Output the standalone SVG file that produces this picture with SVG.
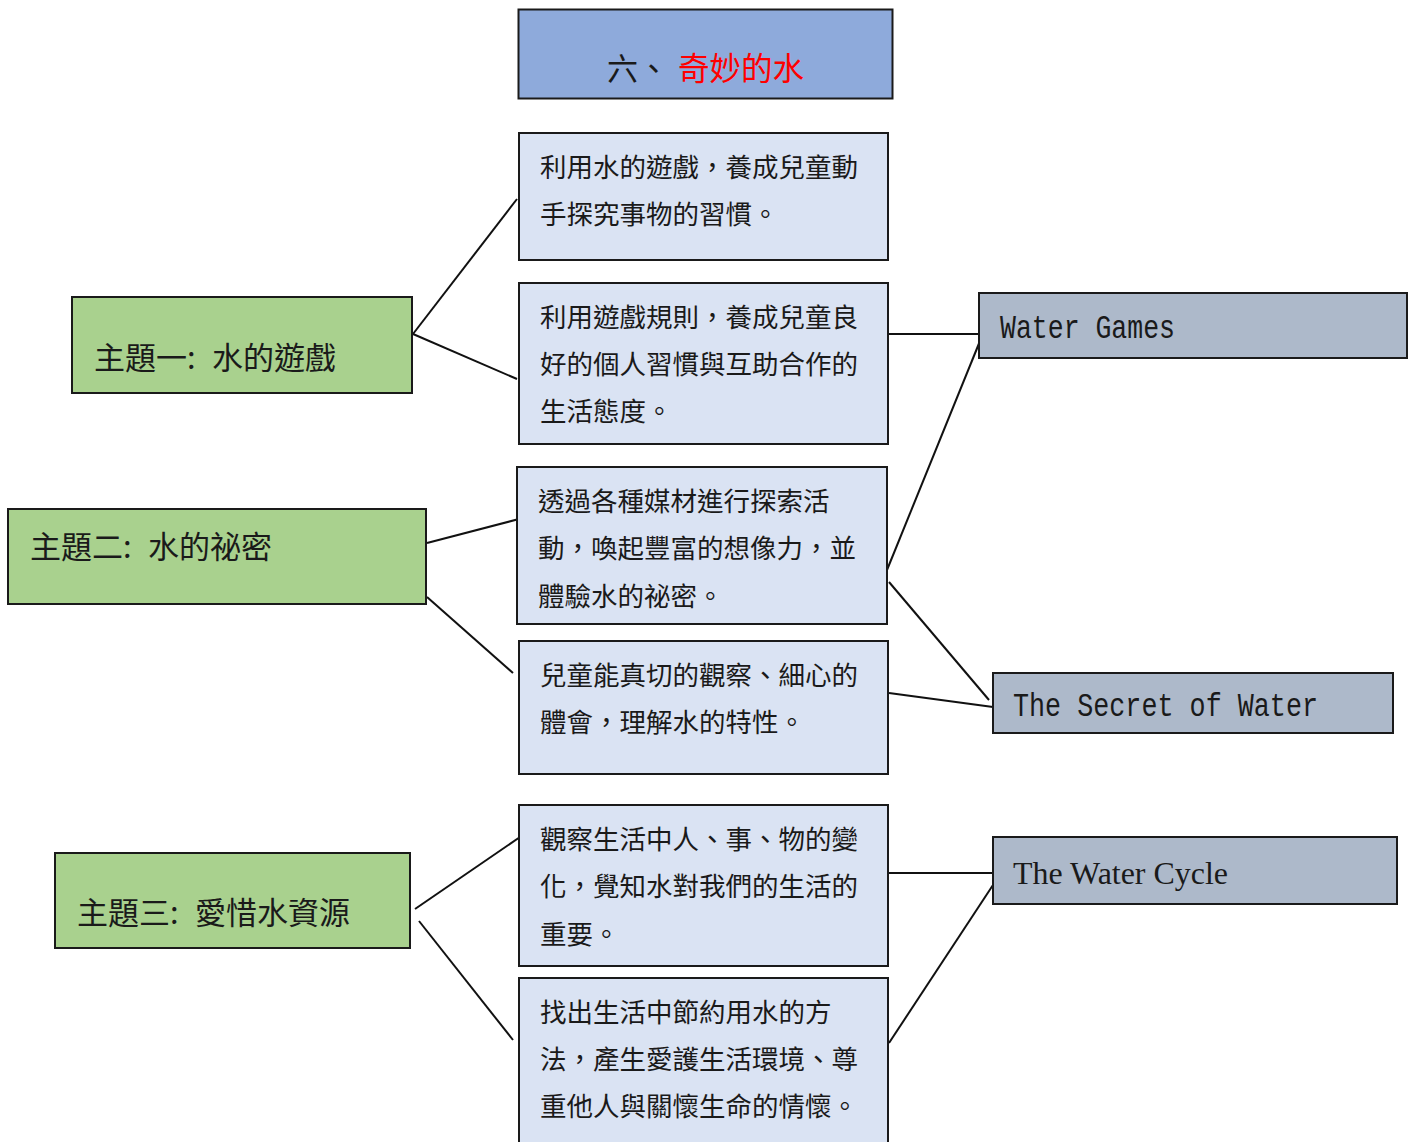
<svg xmlns="http://www.w3.org/2000/svg" width="1414" height="1142" viewBox="0 0 1414 1142">
<style>
.box{stroke:#1a1a1a;stroke-width:2}
.title{fill:#8eaadb}
.theme{fill:#a9d18e}
.desc{fill:#dae3f3}
.eng{fill:#adb9ca}
.cjk{font-family:"Noto Sans CJK TC","Noto Sans CJK SC",sans-serif;fill:#1a1a1a}
.t31{font-size:31px}
.t26{font-size:26.5px}
.mono{font-family:"Liberation Mono",monospace;font-size:33px;fill:#1a1a1a}
.serif{font-family:"Liberation Serif",serif;font-size:31px;fill:#1a1a1a}
.conn line{stroke:#111;stroke-width:2;fill:none}
</style>
<rect width="1414" height="1142" fill="#ffffff"/>
<g class="conn" id="connectors">
<line x1="413" y1="334" x2="517" y2="199"/>
<line x1="413" y1="334" x2="517" y2="379"/>
<line x1="427" y1="543" x2="519" y2="519"/>
<line x1="427" y1="597" x2="513" y2="673"/>
<line x1="415" y1="909" x2="523" y2="835"/>
<line x1="419" y1="921" x2="513" y2="1040"/>
<line x1="888" y1="334" x2="979" y2="334"/>
<line x1="887" y1="570" x2="980" y2="341"/>
<line x1="889" y1="582" x2="989" y2="700"/>
<line x1="889" y1="693" x2="993" y2="707"/>
<line x1="889" y1="873" x2="993" y2="873"/>
<line x1="889" y1="1043" x2="993" y2="885"/>
</g>
<g id="title">
<rect class="box title" x="518.5" y="9.5" width="374" height="89"/>
<text class="cjk t31" y="80"><tspan x="607">六、</tspan><tspan x="678" fill="#ff0000" font-size="31.5">奇妙的水</tspan></text>
</g>
<g id="theme1">
<rect class="box theme" x="72" y="297" width="340" height="96"/>
<text class="cjk t31" y="369"><tspan x="94">主題一: </tspan><tspan x="212">水的遊戲</tspan></text>
</g>
<g id="theme2">
<rect class="box theme" x="8" y="509" width="418" height="95"/>
<text class="cjk t31" y="558"><tspan x="30">主題二: </tspan><tspan x="148">水的祕密</tspan></text>
</g>
<g id="theme3">
<rect class="box theme" x="55" y="853" width="355" height="95"/>
<text class="cjk t31" y="924"><tspan x="77">主題三: </tspan><tspan x="195">愛惜水資源</tspan></text>
</g>
<g id="desc1">
<rect class="box desc" x="519" y="133" width="369" height="127"/>
<text class="cjk t26"><tspan x="540" y="177">利用水的遊戲，養成兒童動</tspan><tspan x="540" y="224">手探究事物的習慣。</tspan></text>
</g>
<g id="desc2">
<rect class="box desc" x="519" y="283" width="369" height="161"/>
<text class="cjk t26"><tspan x="540" y="327">利用遊戲規則，養成兒童良</tspan><tspan x="540" y="374">好的個人習慣與互助合作的</tspan><tspan x="540" y="421">生活態度。</tspan></text>
</g>
<g id="desc3">
<rect class="box desc" x="517" y="467" width="370" height="157"/>
<text class="cjk t26"><tspan x="538" y="511">透過各種媒材進行探索活</tspan><tspan x="538" y="558">動，喚起豐富的想像力，並</tspan><tspan x="538" y="606">體驗水的祕密。</tspan></text>
</g>
<g id="desc4">
<rect class="box desc" x="519" y="641" width="369" height="133"/>
<text class="cjk t26"><tspan x="540" y="685">兒童能真切的觀察、細心的</tspan><tspan x="540" y="732">體會，理解水的特性。</tspan></text>
</g>
<g id="desc5">
<rect class="box desc" x="519" y="805" width="369" height="161"/>
<text class="cjk t26"><tspan x="540" y="849">觀察生活中人、事、物的變</tspan><tspan x="540" y="896">化，覺知水對我們的生活的</tspan><tspan x="540" y="944">重要。</tspan></text>
</g>
<g id="desc6">
<rect class="box desc" x="519" y="978" width="369" height="170"/>
<text class="cjk t26"><tspan x="540" y="1022">找出生活中節約用水的方</tspan><tspan x="540" y="1069">法，產生愛護生活環境、尊</tspan><tspan x="540" y="1116">重他人與關懷生命的情懷。</tspan></text>
</g>
<g id="eng1">
<rect class="box eng" x="979" y="293" width="428" height="65"/>
<text class="mono" x="1000" y="338" textLength="175" lengthAdjust="spacingAndGlyphs">Water Games</text>
</g>
<g id="eng2">
<rect class="box eng" x="993" y="673" width="400" height="60"/>
<text class="mono" x="1013" y="716" textLength="305" lengthAdjust="spacingAndGlyphs">The Secret of Water</text>
</g>
<g id="eng3">
<rect class="box eng" x="993" y="837" width="404" height="67"/>
<text class="serif" x="1013" y="884" textLength="215" lengthAdjust="spacingAndGlyphs">The Water Cycle</text>
</g>
</svg>
